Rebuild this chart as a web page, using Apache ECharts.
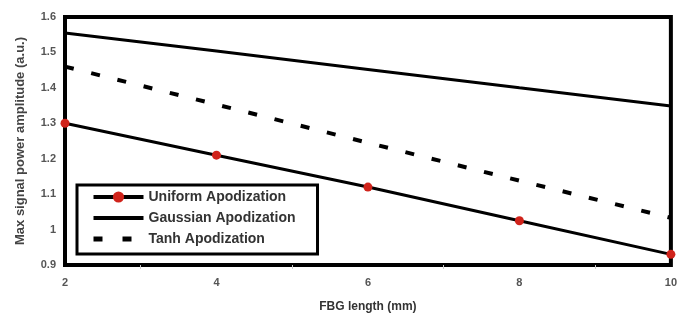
<!DOCTYPE html>
<html>
<head>
<meta charset="utf-8">
<script src="https://cdn.jsdelivr.net/npm/echarts@6/dist/echarts.min.js"></script>
<style>html,body{margin:0;padding:0;background:#fff}#c{width:680px;height:320px}</style>
</head>
<body>
<div id="c"></div>
<script>
var fbgLength = [2, 4, 6, 8, 10];
var uniform = [1.30, 1.21, 1.12, 1.025, 0.93];
var gaussian = [1.555, 1.504, 1.452, 1.40, 1.349];
var tanh = [1.46, 1.353, 1.245, 1.138, 1.033];
var xTicks = [2, 4, 6, 8, 10];
var yTicks = [0.9, 1, 1.1, 1.2, 1.3, 1.4, 1.5, 1.6];

function pairs(ys) { return fbgLength.map(function (x, i) { return [x, ys[i]]; }); }

var chart = echarts.init(document.getElementById('c'), null, { renderer: 'canvas' });
var font = 'Liberation Sans, Arial, sans-serif';
chart.setOption({
  animation: false,
  backgroundColor: '#fff',
  grid: { left: 65, right: 4, top: 17, bottom: 55, show: true, borderColor: '#000', borderWidth: 4, backgroundColor: 'transparent' },
  xAxis: {
    type: 'value', min: 2, max: 10, interval: 2,
    name: 'FBG length (mm)', nameLocation: 'middle', nameGap: 36,
    nameTextStyle: { fontFamily: font, fontWeight: 'bold', fontSize: 12, color: '#333' },
    axisLine: { show: false },
    axisTick: { show: false },
    minorTick: { show: true, splitNumber: 2, length: 4, lineStyle: { color: '#ccc' } },
    splitLine: { show: false },
    axisLabel: { fontFamily: font, fontWeight: 'bold', fontSize: 11, color: '#555', margin: 12,
      formatter: function (v) { return xTicks.indexOf(v) >= 0 ? String(v) : ''; } }
  },
  yAxis: {
    type: 'value', min: 0.9, max: 1.6, interval: 0.1,
    name: 'Max signal power amplitude (a.u.)', nameLocation: 'middle', nameGap: 38,
    nameTextStyle: { fontFamily: font, fontWeight: 'bold', fontSize: 13, color: '#444' },
    axisLine: { show: false },
    axisTick: { show: false },
    splitLine: { show: false },
    axisLabel: { fontFamily: font, fontWeight: 'bold', fontSize: 11, color: '#555', margin: 9,
      formatter: function (v) {
        var r = Math.round(v * 10) / 10;
        return yTicks.indexOf(r) >= 0 ? String(r) : '';
      } }
  },
  legend: {
    orient: 'vertical', left: 77, top: 185,
    padding: [5, 22, 8, 14], itemGap: 7, itemWidth: 50, itemHeight: 14,
    borderColor: '#000', borderWidth: 3, backgroundColor: '#fff',
    textStyle: { fontFamily: font, fontWeight: 'bold', fontSize: 14, color: '#333' },
    data: [
      { name: 'Uniform Apodization', lineStyle: { width: 4 } },
      { name: 'Gaussian Apodization', itemStyle: { opacity: 0 }, lineStyle: { width: 4 } },
      { name: 'Tanh Apodization', itemStyle: { opacity: 0 }, lineStyle: { width: 5, type: [9, 20] } }
    ]
  },
  series: [
    {
      name: 'Uniform Apodization', type: 'line', data: pairs(uniform),
      symbol: 'circle', symbolSize: 9, showSymbol: true,
      itemStyle: { color: '#d0231b' },
      lineStyle: { color: '#000', width: 3 }, z: 3
    },
    {
      name: 'Gaussian Apodization', type: 'line', data: pairs(gaussian),
      symbol: 'none', itemStyle: { color: '#000' },
      lineStyle: { color: '#000', width: 3 }
    },
    {
      name: 'Tanh Apodization', type: 'line', data: pairs(tanh),
      symbol: 'none', itemStyle: { color: '#000' },
      lineStyle: { color: '#000', width: 4, type: [9, 18] }
    }
  ]
});
</script>
</body>
</html>
